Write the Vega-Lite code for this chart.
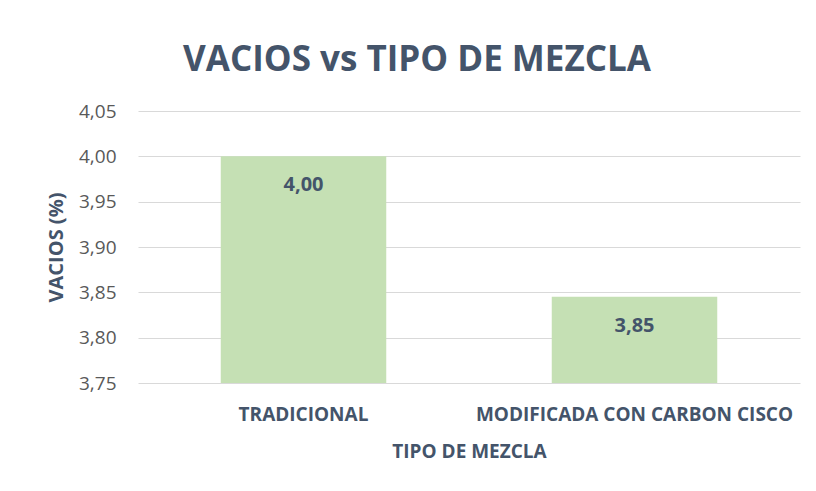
{
  "$schema": "https://vega.github.io/schema/vega-lite/v6.json",
  "width": 662,
  "height": 272,
  "autosize": {"type": "none"},
  "padding": {"left": 138, "top": 111, "right": 16, "bottom": 108},
  "background": "white",
  "config": {
    "locale": {"number": {"decimal": ",", "thousands": ".", "grouping": [3], "currency": ["", " €"]}},
    "font": "Open Sans",
    "view": {"stroke": null}
  },
  "title": {
    "text": "VACIOS vs TIPO DE MEZCLA",
    "font": "Open Sans",
    "fontSize": 35,
    "fontWeight": "bold",
    "color": "#44546a",
    "anchor": "middle",
    "dx": -52,
    "offset": 24
  },
  "data": {
    "values": [
      {"tipo": "TRADICIONAL", "vacios": 4.0},
      {"tipo": "MODIFICADA CON CARBON CISCO", "vacios": 3.845}
    ]
  },
  "encoding": {
    "x": {
      "field": "tipo",
      "type": "nominal",
      "sort": null,
      "scale": {"paddingInner": 0.5, "paddingOuter": 0.25},
      "axis": {
        "title": "TIPO DE MEZCLA",
        "titleFont": "Open Sans",
        "titleFontSize": 19,
        "titleFontWeight": "bold",
        "titleColor": "#44546a",
        "titlePadding": 18,
        "labelAngle": 0,
        "labelFont": "Open Sans",
        "labelFontSize": 19,
        "labelFontWeight": "bold",
        "labelColor": "#44546a",
        "labelPadding": 22,
        "labelLimit": 0,
        "ticks": false,
        "domain": false
      }
    },
    "y": {
      "field": "vacios",
      "type": "quantitative",
      "scale": {"domain": [3.75, 4.05], "zero": false, "nice": false},
      "axis": {
        "title": "VACIOS (%)",
        "titleFont": "Open Sans",
        "titleFontSize": 20,
        "titleFontWeight": "bold",
        "titleColor": "#44546a",
        "titleX": -72,
        "titleY": 136,
        "titleAngle": -90,
        "titleAlign": "center",
        "titleBaseline": "bottom",
        "format": ".2f",
        "values": [3.75, 3.8, 3.85, 3.9, 3.95, 4.0, 4.05],
        "labelFont": "Open Sans",
        "labelFontSize": 19,
        "labelColor": "#595959",
        "labelPadding": 22,
        "ticks": false,
        "domain": false,
        "grid": true,
        "gridColor": "#d9d9d9",
        "gridWidth": 1
      }
    }
  },
  "layer": [
    {
      "mark": {"type": "bar", "color": "#c5e0b4", "clip": true},
      "encoding": {"y2": {"datum": 3.75}}
    },
    {
      "mark": {"type": "text", "dy": 29, "fontSize": 20, "fontWeight": "bold", "color": "#44546a", "font": "Open Sans"},
      "encoding": {"text": {"field": "vacios", "type": "quantitative", "format": ".2f"}}
    }
  ]
}
